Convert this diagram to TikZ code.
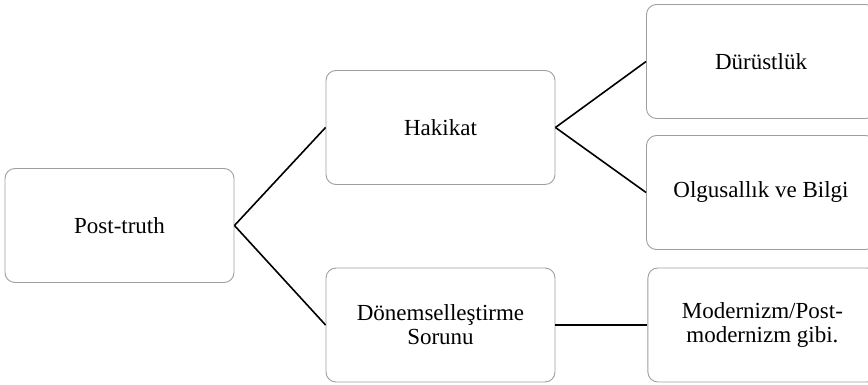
\documentclass[tikz,border=0pt]{standalone}
\usepackage{fontspec}
\setmainfont{Liberation Serif}
\usetikzlibrary{positioning}

\begin{document}
\begin{tikzpicture}[x=1pt, y=1pt,
  font=\fontsize{23}{24}\selectfont, node distance=92pt,
  b/.style={draw=gray!75, line width=0.9pt, rounded corners=10pt, align=center, minimum width=229pt, minimum height=114pt, inner sep=0pt, fill=white},
  con/.style={line width=1.6pt}]
\useasboundingbox (0,0) rectangle (868,384);
\node[b] (pt) at (119.5,158.5) {Post-truth};
\node[b] (hak) at (440.5,256.5) {Hakikat};
\node[b] (don) at (440.5,59) {Dönemselleştirme\\Sorunu};
\node[b, right=of don] (mod) {Modernizm/Post-\\modernizm gibi.};
\node[b] (dur) at (761,322.5) {Dürüstlük};
\node[b] (olg) at (761,191.5) {Olgusallık ve Bilgi};
\foreach \a/\b in {pt/hak,pt/don,hak/dur,hak/olg,don/mod} \draw[con] (\a.east)--(\b.west);
\end{tikzpicture}
\end{document}
